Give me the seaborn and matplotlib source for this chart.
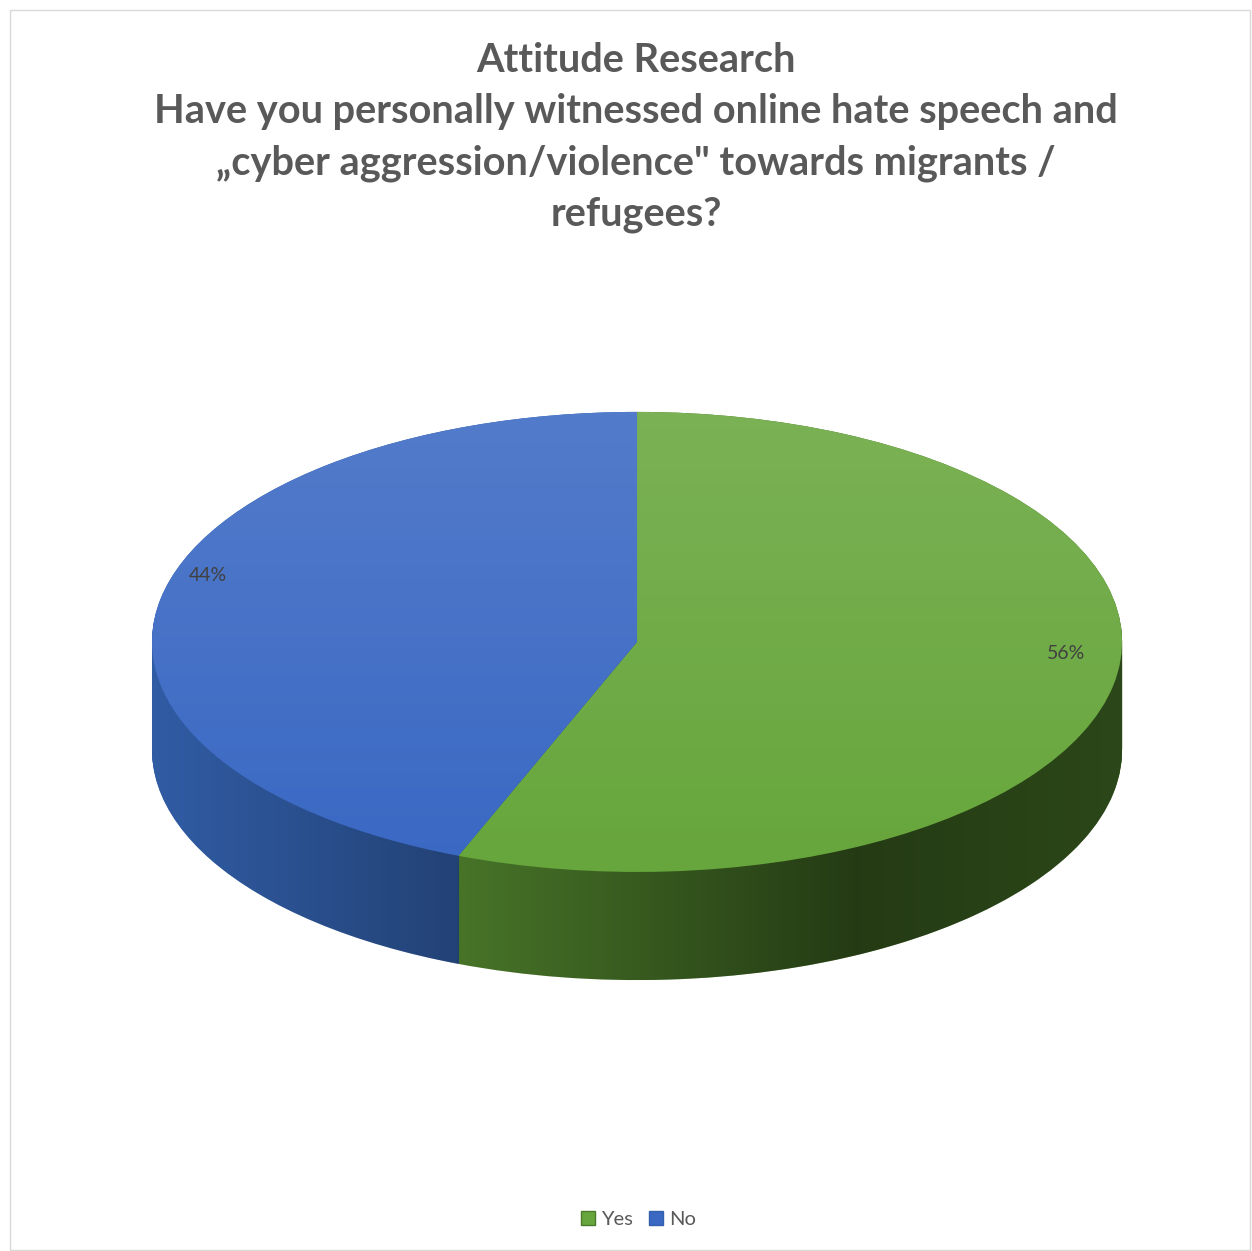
import seaborn as sns
import matplotlib.pyplot as plt
import numpy as np
from matplotlib.patches import Patch, Rectangle, Ellipse, Polygon

labels = ['Yes', 'No']
values = [56, 44]
top_colors = ['#67A63C', '#3A68C3']
side_colors = ['#4B7A2A', '#3361AD']
title = ('Attitude Research\n'
         'Have you personally witnessed online hate speech and\n'
         '\u201ecyber aggression/violence" towards migrants /\n'
         'refugees?')

sns.set_theme(style='white')
plt.rcParams['font.family'] = ['Lato', 'DejaVu Sans']

fig = plt.figure(figsize=(12.52, 12.51), dpi=100)
ax = fig.add_axes([0.02456, 0.1559, 0.9685, 0.5608])

# side of the 3d pie: stack of pies shifted down
depth = 0.47
for k in np.linspace(depth, 0.0, 120):
    ax.pie(values, colors=side_colors, startangle=90, counterclock=False,
           center=(0, -k), wedgeprops=dict(linewidth=0, zorder=1))

# shading on the side faces
th_b = np.deg2rad(90 - 360 * values[0] / sum(values))
xb = np.cos(th_b)
t = np.linspace(np.pi, 2 * np.pi, 300)
pts = [(-1, 0)] + list(zip(np.cos(t), np.sin(t) - depth)) + [(1, 0)]

xs = np.linspace(0, 1, 256)
grad_no = np.zeros((1, 256, 4))
grad_no[..., 3] = np.interp(xs, [0, 1], [0.05, 0.32])
grad_yes = np.zeros((1, 256, 4))
grad_yes[..., 3] = np.interp(xs, [0, 0.6, 1], [0.05, 0.52, 0.42])
for arr, ext in [(grad_no, (-1, xb)), (grad_yes, (xb, 1))]:
    im = ax.imshow(arr, extent=(ext[0], ext[1], -depth - 1, 0), aspect='auto',
                   zorder=2, interpolation='bilinear')
    clip = Polygon(pts, closed=True, transform=ax.transData)
    im.set_clip_path(clip)

# top face
wedges, texts, autotexts = ax.pie(
    values, colors=top_colors, startangle=90, counterclock=False,
    autopct='%1.0f%%', pctdistance=0.9,
    wedgeprops=dict(linewidth=0, zorder=3),
    textprops=dict(color='#404040', fontsize=14))
for a in autotexts:
    x, y = a.get_position()
    a.set_position((x, y + 0.12))
    a.set_zorder(6)

ys = np.linspace(0, 1, 256)
grad_top = np.ones((256, 1, 4))
grad_top[:, 0, 3] = np.interp(ys, [0, 1], [0.13, 0.0])
im = ax.imshow(grad_top, extent=(-1, 1, -1, 1), aspect='auto', zorder=4,
               interpolation='bilinear')
im.set_clip_path(Ellipse((0, 0), 2, 2, transform=ax.transData))

ax.set_xlim(-1.25, 1.25)
ax.set_ylim(-1.8, 1.25)
ax.set_aspect('auto')
ax.axis('off')

fig.text(0.508, 1 - 42 / 1251, title, ha='center', va='top', fontsize=28.6,
         fontweight='bold', color='#595959', linespacing=1.47)

handles = [Patch(facecolor=top_colors[i], edgecolor=side_colors[i], label=labels[i])
           for i in range(len(labels))]
fig.legend(handles=handles, loc='center', bbox_to_anchor=(0.51, 0.025), ncol=2,
           frameon=False, fontsize=14.5, handlelength=0.7, handleheight=0.7,
           handletextpad=0.3, columnspacing=0.8, labelcolor='#595959')

fig.add_artist(Rectangle((10 / 1252, 1 / 1251), 1240 / 1252, 1240 / 1251,
                         transform=fig.transFigure, fill=False,
                         edgecolor='#d9d9d9', linewidth=1))

fig.savefig('out.png', dpi=100)
